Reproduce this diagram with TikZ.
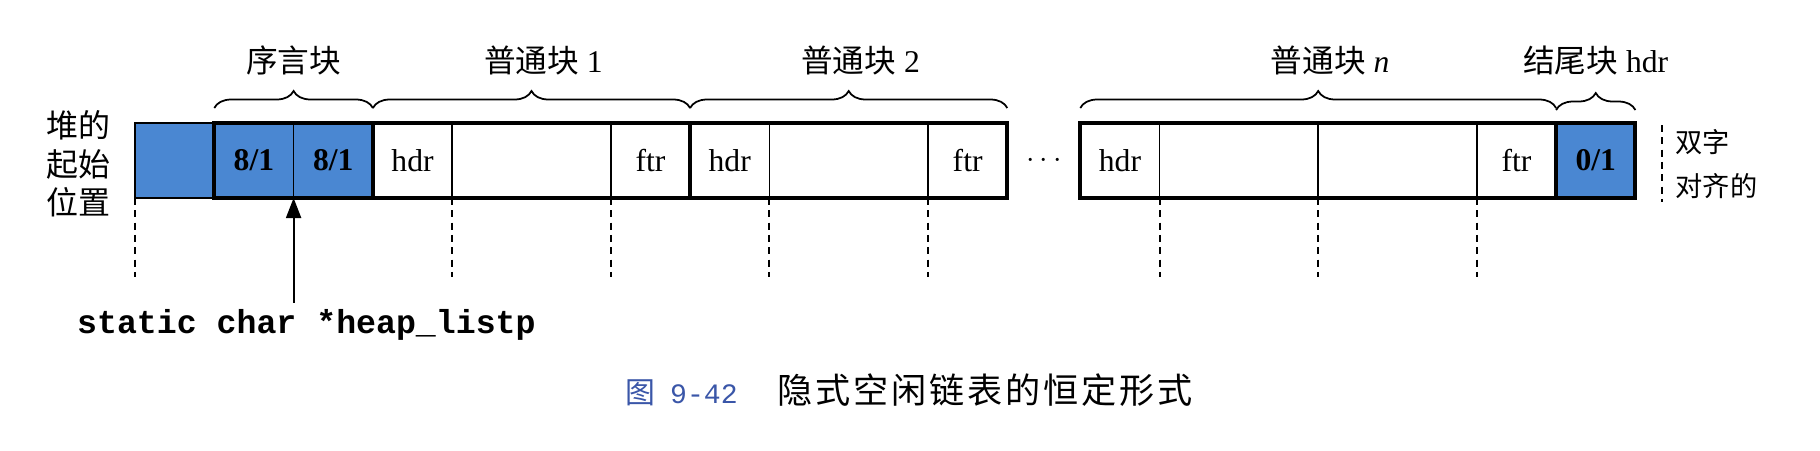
\documentclass[tikz,border=0pt]{standalone}
\usepackage{fontspec}
\setmainfont{Liberation Serif}
\setmonofont{Liberation Mono}
\newfontfamily\cjk{Noto Sans CJK SC}
\newfontfamily\cjkcap[LetterSpace=8]{Noto Sans CJK SC}
\usepackage{tikz}
\usetikzlibrary{positioning,decorations.pathreplacing,arrows.meta}
\definecolor{HeapBlue}{HTML}{4A87D2}
\definecolor{FigBlue}{HTML}{3A56A8}

\begin{document}
\begin{tikzpicture}[
    font=\fontsize{18}{22}\selectfont,
    word/.style={draw, line width=1pt, minimum width=1.586cm, minimum height=1.5cm, inner sep=0pt, outer sep=0pt},
    dword/.style={word, minimum width=3.172cm},
    filled/.style={word, fill=HeapBlue, font=\fontsize{18}{22}\selectfont\bfseries},
    block/.style={draw, line width=2.2pt},
    brc/.style={decorate, decoration={brace, amplitude=0.34cm}, line width=1pt},
    guide/.style={line width=1.1pt, dash pattern=on 4pt off 3pt},
  ]
    \useasboundingbox (-2.7,-5.04) rectangle (33.7,3.96);

    % the heap as a row of words
    \node[filled, anchor=south west] (pad) at (0,0) {};
    \node[filled, right=0pt of pad] (pro1) {8/1};
    \node[filled, right=0pt of pro1] (pro2) {8/1};
    \node[word, right=0pt of pro2] (h1) {hdr};
    \node[dword, right=0pt of h1] (d1) {};
    \node[word, right=0pt of d1] (f1) {ftr};
    \node[word, right=0pt of f1] (h2) {hdr};
    \node[dword, right=0pt of h2] (d2) {};
    \node[word, right=0pt of d2] (f2) {ftr};
    \node[word, right=1.46cm of f2] (hn) {hdr};
    \node[dword, right=0pt of hn] (dn1) {};
    \node[dword, right=0pt of dn1] (dn2) {};
    \node[word, right=0pt of dn2] (fn) {ftr};
    \node[filled, right=0pt of fn] (ep) {0/1};
    \path (f2.east) -- (hn.west) node[midway] (dots) {$\cdots$};

    % block outlines
    \draw[block] (pro1.south west) rectangle (pro2.north east);
    \draw[block] (h1.south west) rectangle (f1.north east);
    \draw[block] (h2.south west) rectangle (f2.north east);
    \draw[block] (hn.south west) rectangle (fn.north east);
    \draw[block] (ep.south west) rectangle (ep.north east);

    % braces
    \draw[brc] ([yshift=0.3cm]pro1.north west) -- ([yshift=0.3cm]pro2.north east)
        node[midway, yshift=0.95cm] (lpro) {\cjk 序言块};
    \draw[brc] ([yshift=0.3cm]h1.north west) -- ([yshift=0.3cm]f1.north east)
        node[midway, yshift=0.95cm] (lb1) {{\cjk 普通块}\rlap{\ 1}};
    \draw[brc] ([yshift=0.3cm]h2.north west) -- ([yshift=0.3cm]f2.north east)
        node[midway, yshift=0.95cm] (lb2) {{\cjk 普通块}\rlap{\ 2}};
    \draw[brc] ([yshift=0.3cm]hn.north west) -- ([yshift=0.3cm]fn.north east)
        node[midway, yshift=0.95cm] (lbn) {{\cjk 普通块}\rlap{\ \textit{n}}};
    \draw[brc] ([yshift=0.26cm]ep.north west) -- ([yshift=0.26cm]ep.north east)
        node[midway, yshift=0.99cm] (lep) {{\cjk 结尾块} hdr};

    % double word boundaries
    \foreach \p in {pad.south west, h1.south east, f1.south west, h2.south east,
                    f2.south west, hn.south east, dn1.south east, fn.south west}
        \draw[guide] (\p) -- ++(0,-1.58);
    \coordinate (al) at ([xshift=0.54cm]ep.east);
    \draw[guide] ([yshift=0.71cm]al) -- ([yshift=-0.83cm]al);
    \node[right=0.14cm of al, yshift=-2pt, align=left, font=\fontsize{15.5}{25}\cjk] (dw) {双字\\对齐的};

    \node[left=0.36cm of pad, yshift=-2pt, align=center, font=\fontsize{18.2}{21.9}\cjk] (start) {堆的\\起始\\位置};

    % pointer
    \node[anchor=base west, font=\fontsize{18.9}{22}\selectfont\ttfamily\bfseries] (listp) at (-1.28,-2.7) {static char *heap\_listp};
    \draw[line width=1.1pt, -{Triangle[length=0.4cm, width=0.3cm]}] (listp.north -| pro1.south east) -- (pro1.south east);

    % caption
    \node[anchor=west, inner sep=0pt] (cap) at (9.8,-3.84)
        {\textcolor{FigBlue}{{\fontsize{17}{20}\cjk 图}\hspace{0.3cm}{\fontsize{16}{20}\ttfamily 9-42}}\hspace{0.8cm}{\fontsize{20}{24}\cjkcap 隐式空闲链表的恒定形式}};
\end{tikzpicture}
\end{document}
